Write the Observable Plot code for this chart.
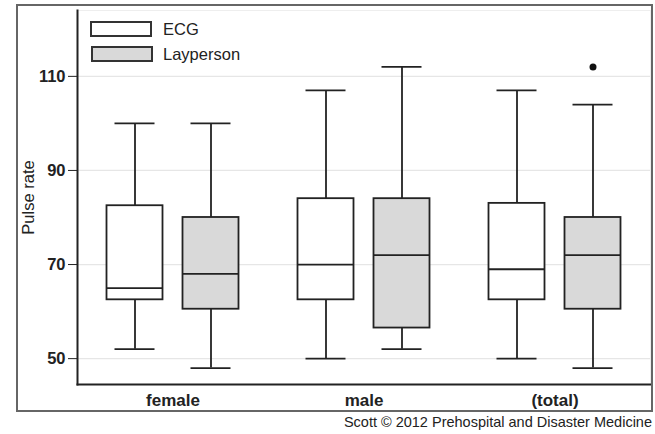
<!DOCTYPE html>
<html>
<head>
<meta charset="utf-8">
<script src="https://cdn.jsdelivr.net/npm/d3@7"></script>
<script src="https://cdn.jsdelivr.net/npm/@observablehq/plot@0.6"></script>
<style>
  body { margin: 0; background: #fff; font-family: "Liberation Sans", Arial, sans-serif; }
  #wrap { position: relative; width: 655px; height: 434px; overflow: hidden; }
  #chart { position: absolute; left: 0; top: 0; }
  #outer { position: absolute; left: 16px; top: 4px; width: 637px; height: 408px; box-sizing: border-box; border: 2px solid #666; pointer-events: none; }
  .sw { position: absolute; box-sizing: border-box; border: 2px solid #333; }
  .lt { position: absolute; font-size: 16.5px; color: #222; line-height: 16px; }
  #caption { position: absolute; right: 3px; top: 413px; font-size: 14.5px; color: #222; line-height: 18px; }
</style>
</head>
<body>
<div id="wrap">
  <div id="chart"></div>
  <div id="outer"></div>
  <div id="legend"></div>
  <div id="caption">Scott © 2012 Prehospital and Disaster Medicine</div>
</div>
<script>
const categories = ["female", "male", "(total)"];
const series = ["ECG", "Layperson"];
const seriesFill = ["#ffffff", "#d9d9d9"];
const yTicks = [50, 70, 90, 110];

const ecgMin    = [52, 50, 50];
const ecgQ1     = [62.5, 62.5, 62.5];
const ecgMedian = [65, 70, 69];
const ecgQ3     = [82.5, 84, 83];
const ecgMax    = [100, 107, 107];

const layMin    = [48, 52, 48];
const layQ1     = [60.5, 56.5, 60.5];
const layMedian = [68, 72, 72];
const layQ3     = [80, 84, 80];
const layMax    = [100, 112, 104];

const outlierCategory = ["(total)"];
const outlierSeries = ["Layperson"];
const outlierValue = [112];

const stats = [
  {s: "ECG", min: ecgMin, q1: ecgQ1, med: ecgMedian, q3: ecgQ3, max: ecgMax},
  {s: "Layperson", min: layMin, q1: layQ1, med: layMedian, q3: layQ3, max: layMax}
];
const rows = [];
stats.forEach(st => categories.forEach((c, i) => rows.push({
  category: c, series: st.s, min: st.min[i], q1: st.q1[i], median: st.med[i], q3: st.q3[i], max: st.max[i]
})));
const outliers = outlierValue.map((v, i) => ({category: outlierCategory[i], series: outlierSeries[i], value: v}));

// layout (within each category band of the x scale)
const band = 191, boxW = 56, capW = 40, off = 38;
function insets(s, w) {
  const center = band / 2 + (s === "ECG" ? -off : off);
  return {insetLeft: center - w / 2, insetRight: band - center - w / 2};
}
const stroke = "#222", sw = 1.8;

const marks = [
  Plot.gridY(yTicks, {stroke: "#e6e6e6", strokeOpacity: 1, strokeWidth: 1.2}),
  Plot.frame({stroke: "#eeeeee", strokeWidth: 1})
];
series.forEach((s, k) => {
  const d = rows.filter(r => r.series === s);
  const dx = s === "ECG" ? -off : off;
  marks.push(
    Plot.ruleX(d, {x: "category", y1: "min", y2: "q1", dx, stroke, strokeWidth: sw}),
    Plot.ruleX(d, {x: "category", y1: "q3", y2: "max", dx, stroke, strokeWidth: sw}),
    Plot.tickY(d, {x: "category", y: "min", stroke, strokeWidth: sw, ...insets(s, capW)}),
    Plot.tickY(d, {x: "category", y: "max", stroke, strokeWidth: sw, ...insets(s, capW)}),
    Plot.barY(d, {x: "category", y1: "q1", y2: "q3", fill: seriesFill[k], stroke, strokeWidth: sw, ...insets(s, boxW)}),
    Plot.tickY(d, {x: "category", y: "median", stroke, strokeWidth: sw, ...insets(s, boxW)})
  );
});
marks.push(
  Plot.dot(outliers, {x: "category", y: "value", dx: off, r: 3.5, fill: "#111", stroke: "none"}),
  Plot.frame({anchor: "left", stroke: "#222", strokeWidth: 2}),
  Plot.frame({anchor: "bottom", stroke: "#222", strokeWidth: 2})
);

const chart = Plot.plot({
  width: 655,
  height: 412,
  marginLeft: 77,
  marginRight: 5,
  marginTop: 10,
  marginBottom: 28,
  style: {fontFamily: '"Liberation Sans", Arial, sans-serif', background: "transparent", color: "#222"},
  x: {type: "band", domain: categories, padding: 0, tickSize: 0, tickPadding: 9, label: null},
  y: {domain: [44.5, 124], ticks: yTicks, tickSize: 9, tickPadding: 3, label: "Pulse rate", labelArrow: "none", labelAnchor: "center", labelOffset: 55},
  marks
});
chart.querySelectorAll('[aria-label="x-axis tick label"]').forEach(e => { e.style.fontSize = "17px"; e.style.fontWeight = "bold"; });
chart.querySelectorAll('[aria-label="y-axis tick label"]').forEach(e => { e.style.fontSize = "16.5px"; e.style.fontWeight = "bold"; });
chart.querySelectorAll('[aria-label="y-axis label"]').forEach(e => {
  e.style.fontSize = "16.5px";
  e.querySelectorAll("text").forEach(t => { t.textContent = "Pulse rate"; t.setAttribute("font-size", "16.5"); t.style.fontSize = "16.5px"; });
});
document.getElementById("chart").appendChild(chart);

// legend
const legend = document.getElementById("legend");
series.forEach((s, k) => {
  const top = k === 0 ? 21 : 46;
  const sw = document.createElement("div");
  sw.className = "sw";
  Object.assign(sw.style, {left: (90 + k) + "px", top: top + "px", width: "62px", height: "16px", background: seriesFill[k]});
  legend.appendChild(sw);
  const t = document.createElement("div");
  t.className = "lt";
  t.textContent = s;
  Object.assign(t.style, {left: "163px", top: (top + 0) + "px"});
  legend.appendChild(t);
});
</script>
</body>
</html>
